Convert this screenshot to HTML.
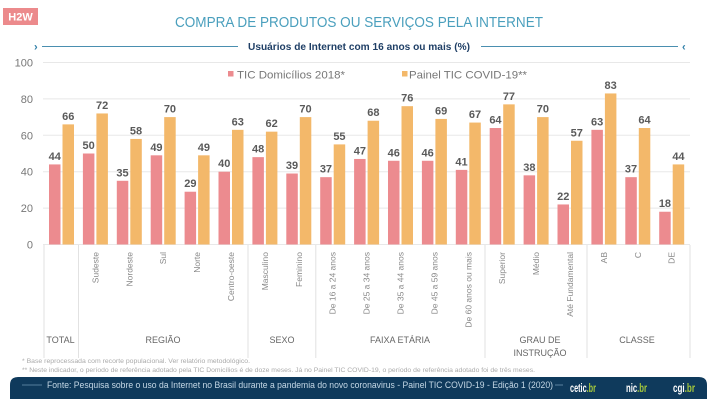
<!DOCTYPE html>
<html><head><meta charset="utf-8"><style>
html,body{margin:0;padding:0;background:#fff;}
svg{display:block;}
text{font-family:"Liberation Sans",sans-serif;}
</style></head><body>
<svg width="717" height="402" viewBox="0 0 717 402" xmlns="http://www.w3.org/2000/svg">
<rect x="0" y="0" width="717" height="402" fill="#fff"/>
<!-- H2W badge -->
<rect x="3" y="8" width="35" height="17" fill="#ec8a8c"/>
<text x="20.5" y="20.5" font-size="11" font-weight="bold" fill="#fff" text-anchor="middle">H2W</text>
<!-- title -->
<text x="175" y="27" font-size="15" fill="#4a9fbd" textLength="368" lengthAdjust="spacingAndGlyphs">COMPRA DE PRODUTOS OU SERVIÇOS PELA INTERNET</text>
<!-- subtitle -->
<text x="34" y="50.5" font-size="11" font-weight="bold" fill="#2f7fa8">›</text>
<line x1="42" y1="46.5" x2="238" y2="46.5" stroke="#4a8fb0" stroke-width="1"/>
<text x="248" y="50" font-size="10" font-weight="bold" fill="#1f3f66" textLength="222" lengthAdjust="spacingAndGlyphs">Usuários de Internet com 16 anos ou mais (%)</text>
<line x1="481" y1="46.5" x2="678" y2="46.5" stroke="#4a8fb0" stroke-width="1"/>
<text x="682" y="50.5" font-size="11" font-weight="bold" fill="#2f7fa8">‹</text>
<!-- gridlines -->
<g stroke="#e8e8e8" stroke-width="1">
<line x1="43" y1="62.5" x2="690" y2="62.5"/>
<line x1="43" y1="98.9" x2="690" y2="98.9"/>
<line x1="43" y1="135.3" x2="690" y2="135.3"/>
<line x1="43" y1="171.7" x2="690" y2="171.7"/>
<line x1="43" y1="208.1" x2="690" y2="208.1"/>
<line x1="43" y1="244.5" x2="690" y2="244.5"/>
</g>
<g font-size="11" fill="#777" text-anchor="end">
<text x="33" y="66.5">100</text>
<text x="33" y="102.9">80</text>
<text x="33" y="139.3">60</text>
<text x="33" y="175.7">40</text>
<text x="33" y="212.1">20</text>
<text x="33" y="248.5">0</text>
</g>
<!-- legend -->
<rect x="228" y="71" width="5.5" height="5.5" fill="#ec8b8f"/>
<text x="237" y="78.5" font-size="11" fill="#777" textLength="108" lengthAdjust="spacingAndGlyphs">TIC Domicílios 2018*</text>
<rect x="402" y="71" width="5.5" height="5.5" fill="#f3b86a"/>
<text x="409" y="78.5" font-size="11" fill="#777" textLength="118" lengthAdjust="spacingAndGlyphs">Painel TIC COVID-19**</text>
<!-- bars pink -->
<g fill="#ec8b8f">
<rect x="49.0" y="164.42" width="11.5" height="80.08"/>
<rect x="82.9" y="153.5" width="11.5" height="91"/>
<rect x="116.8" y="180.8" width="11.5" height="63.7"/>
<rect x="150.7" y="155.32" width="11.5" height="89.18"/>
<rect x="184.6" y="191.72" width="11.5" height="52.78"/>
<rect x="218.5" y="171.7" width="11.5" height="72.8"/>
<rect x="252.4" y="157.14" width="11.5" height="87.36"/>
<rect x="286.3" y="173.52" width="11.5" height="70.98"/>
<rect x="320.2" y="177.16" width="11.5" height="67.34"/>
<rect x="354.1" y="158.96" width="11.5" height="85.54"/>
<rect x="388.0" y="160.78" width="11.5" height="83.72"/>
<rect x="421.9" y="160.78" width="11.5" height="83.72"/>
<rect x="455.8" y="169.88" width="11.5" height="74.62"/>
<rect x="489.7" y="128.02" width="11.5" height="116.48"/>
<rect x="523.6" y="175.34" width="11.5" height="69.16"/>
<rect x="557.5" y="204.46" width="11.5" height="40.04"/>
<rect x="591.4" y="129.84" width="11.5" height="114.66"/>
<rect x="625.3" y="177.16" width="11.5" height="67.34"/>
<rect x="659.2" y="211.74" width="11.5" height="32.76"/>
</g>
<!-- bars orange -->
<g fill="#f3b86a">
<rect x="62.5" y="124.38" width="11.5" height="120.12"/>
<rect x="96.4" y="113.46" width="11.5" height="131.04"/>
<rect x="130.3" y="138.94" width="11.5" height="105.56"/>
<rect x="164.2" y="117.1" width="11.5" height="127.4"/>
<rect x="198.1" y="155.32" width="11.5" height="89.18"/>
<rect x="232.0" y="129.84" width="11.5" height="114.66"/>
<rect x="265.9" y="131.66" width="11.5" height="112.84"/>
<rect x="299.8" y="117.1" width="11.5" height="127.4"/>
<rect x="333.7" y="144.4" width="11.5" height="100.1"/>
<rect x="367.6" y="120.74" width="11.5" height="123.76"/>
<rect x="401.5" y="106.18" width="11.5" height="138.32"/>
<rect x="435.4" y="118.92" width="11.5" height="125.58"/>
<rect x="469.3" y="122.56" width="11.5" height="121.94"/>
<rect x="503.2" y="104.36" width="11.5" height="140.14"/>
<rect x="537.1" y="117.1" width="11.5" height="127.4"/>
<rect x="571.0" y="140.76" width="11.5" height="103.74"/>
<rect x="604.9" y="93.44" width="11.5" height="151.06"/>
<rect x="638.8" y="128.02" width="11.5" height="116.48"/>
<rect x="672.7" y="164.42" width="11.5" height="80.08"/>
</g>
<!-- value labels pink -->
<g font-size="11" font-weight="bold" fill="#5a5a5a" text-anchor="middle">
<text x="54.75" y="160">44</text>
<text x="88.65" y="149">50</text>
<text x="122.55" y="176.3">35</text>
<text x="156.45" y="150.8">49</text>
<text x="190.35" y="187.2">29</text>
<text x="224.25" y="167.2">40</text>
<text x="258.15" y="152.6">48</text>
<text x="292.05" y="169">39</text>
<text x="325.95" y="172.7">37</text>
<text x="359.85" y="154.5">47</text>
<text x="393.75" y="156.3">46</text>
<text x="427.65" y="156.3">46</text>
<text x="461.55" y="165.4">41</text>
<text x="495.45" y="123.5">64</text>
<text x="529.35" y="170.8">38</text>
<text x="563.25" y="200">22</text>
<text x="597.15" y="125.3">63</text>
<text x="631.05" y="172.7">37</text>
<text x="664.95" y="207.2">18</text>
<!-- orange -->
<text x="68.25" y="119.9">66</text>
<text x="102.15" y="109">72</text>
<text x="136.05" y="134.4">58</text>
<text x="169.95" y="112.6">70</text>
<text x="203.85" y="150.8">49</text>
<text x="237.75" y="125.3">63</text>
<text x="271.65" y="127.2">62</text>
<text x="305.55" y="112.6">70</text>
<text x="339.45" y="139.9">55</text>
<text x="373.35" y="116.2">68</text>
<text x="407.25" y="101.7">76</text>
<text x="441.15" y="114.4">69</text>
<text x="475.05" y="118">67</text>
<text x="508.95" y="99.9">77</text>
<text x="542.85" y="112.6">70</text>
<text x="576.75" y="136.3">57</text>
<text x="610.65" y="88.9">83</text>
<text x="644.55" y="123.5">64</text>
<text x="678.45" y="159.9">44</text>
</g>
<!-- separators -->
<g stroke="#e2e2e2" stroke-width="1">
<line x1="44" y1="245" x2="44" y2="358"/>
<line x1="78.5" y1="245" x2="78.5" y2="358"/>
<line x1="248" y1="245" x2="248" y2="358"/>
<line x1="315.8" y1="245" x2="315.8" y2="358"/>
<line x1="485" y1="245" x2="485" y2="358"/>
<line x1="587" y1="245" x2="587" y2="358"/>
<line x1="690" y1="245" x2="690" y2="358"/>
</g>
<!-- category labels -->
<g font-size="8.5" fill="#888" text-anchor="end">
<text transform="translate(95.4,252) rotate(-90)" dy="0.35em">Sudeste</text>
<text transform="translate(129.3,252) rotate(-90)" dy="0.35em">Nordeste</text>
<text transform="translate(163.2,252) rotate(-90)" dy="0.35em">Sul</text>
<text transform="translate(197.1,252) rotate(-90)" dy="0.35em">Norte</text>
<text transform="translate(231.0,252) rotate(-90)" dy="0.35em">Centro-oeste</text>
<text transform="translate(264.9,252) rotate(-90)" dy="0.35em">Masculino</text>
<text transform="translate(298.8,252) rotate(-90)" dy="0.35em">Feminino</text>
<text transform="translate(332.7,252) rotate(-90)" dy="0.35em">De 16 a 24 anos</text>
<text transform="translate(366.6,252) rotate(-90)" dy="0.35em">De 25 a 34 anos</text>
<text transform="translate(400.5,252) rotate(-90)" dy="0.35em">De 35 a 44 anos</text>
<text transform="translate(434.4,252) rotate(-90)" dy="0.35em">De 45 a 59 anos</text>
<text transform="translate(468.3,252) rotate(-90)" dy="0.35em">De 60 anos ou mais</text>
<text transform="translate(502.2,252) rotate(-90)" dy="0.35em">Superior</text>
<text transform="translate(536.1,252) rotate(-90)" dy="0.35em">Médio</text>
<text transform="translate(570.0,252) rotate(-90)" dy="0.35em">Até Fundamental</text>
<text transform="translate(603.9,252) rotate(-90)" dy="0.35em">AB</text>
<text transform="translate(637.8,252) rotate(-90)" dy="0.35em">C</text>
<text transform="translate(671.7,252) rotate(-90)" dy="0.35em">DE</text>
</g>
<!-- group labels -->
<g font-size="9" fill="#666" text-anchor="middle">
<text x="60.5" y="343">TOTAL</text>
<text x="163" y="343">REGIÃO</text>
<text x="282" y="343">SEXO</text>
<text x="400" y="343">FAIXA ETÁRIA</text>
<text x="540" y="343">GRAU DE</text>
<text x="540" y="356">INSTRUÇÃO</text>
<text x="637" y="343">CLASSE</text>
</g>
<!-- footnotes -->
<g font-size="6" fill="#aaa">
<text x="22" y="363" textLength="228" lengthAdjust="spacingAndGlyphs">* Base reprocessada com recorte populacional. Ver relatório metodológico.</text>
<text x="22" y="372" textLength="513" lengthAdjust="spacingAndGlyphs">** Neste indicador, o período de referência adotado pela TIC Domicílios é de doze meses. Já no Painel TIC COVID-19, o período de referência adotado foi de três meses.</text>
</g>
<!-- footer -->
<path d="M10,399 L10,385 Q10,377 18,377 L699,377 Q707,377 707,385 L707,399 Z" fill="#0f3a5c"/>
<line x1="22" y1="385" x2="42" y2="385" stroke="#6f95b2" stroke-width="0.8"/>
<text x="47" y="388" font-size="9" fill="#c5d8e6" textLength="506" lengthAdjust="spacingAndGlyphs">Fonte: Pesquisa sobre o uso da Internet no Brasil durante a pandemia do novo coronavirus - Painel TIC COVID-19 - Edição 1 (2020)</text>
<line x1="555" y1="385" x2="563" y2="385" stroke="#6f95b2" stroke-width="0.8"/>
<g font-size="12" font-weight="bold">
<text x="570" y="392" textLength="26" lengthAdjust="spacingAndGlyphs"><tspan fill="#fff">cetic</tspan><tspan fill="#a5c83c">.br</tspan></text>
<text x="626" y="392" textLength="21" lengthAdjust="spacingAndGlyphs"><tspan fill="#fff">nic</tspan><tspan fill="#a5c83c">.br</tspan></text>
<text x="673" y="392" textLength="22" lengthAdjust="spacingAndGlyphs"><tspan fill="#fff">cgi</tspan><tspan fill="#a5c83c">.br</tspan></text>
</g>
</svg>
</body></html>
